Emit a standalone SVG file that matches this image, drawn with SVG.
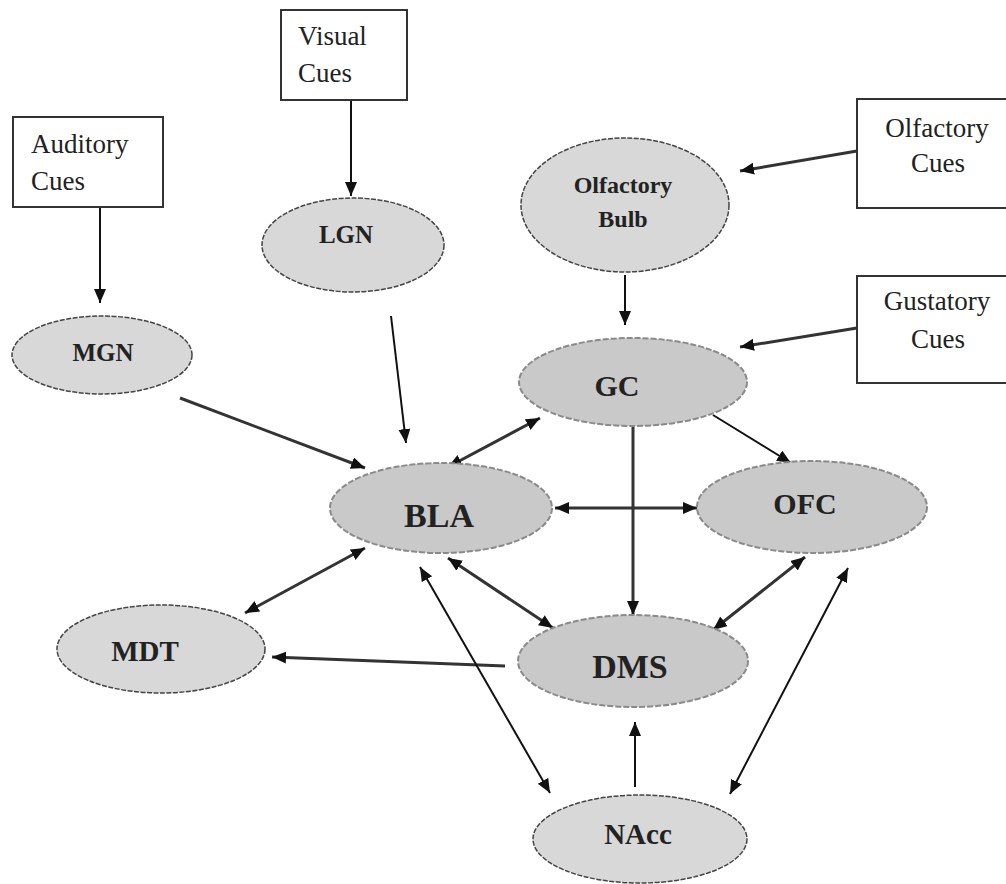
<svg xmlns="http://www.w3.org/2000/svg" width="1006" height="884" viewBox="0 0 1006 884">
<style>
.box{fill:#fff;stroke:#333;stroke-width:2}
.bt{font-family:"Liberation Serif","Times New Roman",serif;font-size:27px;fill:#222}
.n1{fill:#d8d8d8;stroke:#444;stroke-width:1.5;stroke-dasharray:5 1.5}
.n2{fill:#c9c9c9;stroke:#8a8a8a;stroke-width:2;stroke-dasharray:6 2}
.nt{font-family:"Liberation Serif","Times New Roman",serif;font-weight:bold;fill:#222;text-anchor:middle}
.c{stroke:#111;stroke-width:2;fill:none}
.c2{stroke:#333;stroke-width:3;fill:none}
</style>
<defs>
<marker id="ah" markerUnits="userSpaceOnUse" markerWidth="15" markerHeight="13" refX="14" refY="6" orient="auto-start-reverse" viewBox="0 0 15 13">
<path d="M0,0 L14,6 L0,12 z" fill="#111"/>
</marker>
</defs>
<rect width="1006" height="884" fill="#fff"/>
<g id="connectors">
<line class="c" x1="100" y1="207" x2="100" y2="303" marker-end="url(#ah)"/>
<line class="c" x1="351" y1="100" x2="351" y2="196" marker-end="url(#ah)"/>
<line class="c2" x1="180" y1="398" x2="365" y2="468" marker-end="url(#ah)"/>
<line class="c" x1="391" y1="316" x2="406" y2="443" marker-end="url(#ah)"/>
<line class="c2" x1="857" y1="151" x2="740" y2="171" marker-end="url(#ah)"/>
<line class="c2" x1="857" y1="328" x2="740" y2="347" marker-end="url(#ah)"/>
<line class="c" x1="625" y1="275" x2="625" y2="325" marker-end="url(#ah)"/>
<line class="c2" x1="540" y1="418" x2="448" y2="467" marker-start="url(#ah)" marker-end="url(#ah)"/>
<line class="c" x1="713" y1="415" x2="791" y2="463" marker-end="url(#ah)"/>
<line class="c2" x1="633" y1="427" x2="633" y2="615" marker-end="url(#ah)"/>
<line class="c2" x1="555" y1="508" x2="697" y2="508" marker-start="url(#ah)" marker-end="url(#ah)"/>
<line class="c2" x1="365" y1="548" x2="245" y2="613" marker-start="url(#ah)" marker-end="url(#ah)"/>
<line class="c2" x1="448" y1="558" x2="553" y2="628" marker-start="url(#ah)" marker-end="url(#ah)"/>
<line class="c2" x1="805" y1="557" x2="713" y2="630" marker-start="url(#ah)" marker-end="url(#ah)"/>
<line class="c2" x1="505" y1="666" x2="272" y2="657" marker-end="url(#ah)"/>
<line class="c" x1="420" y1="567" x2="550" y2="793" marker-start="url(#ah)" marker-end="url(#ah)"/>
<line class="c" x1="848" y1="568" x2="730" y2="794" marker-start="url(#ah)" marker-end="url(#ah)"/>
<line class="c" x1="635" y1="787" x2="635" y2="722" marker-end="url(#ah)"/>
</g>
<g id="visual-cues">
<rect class="box" x="281" y="10" width="126" height="90"/>
<text class="bt" x="298" y="45">Visual</text>
<text class="bt" x="298" y="82">Cues</text>
</g>
<g id="auditory-cues">
<rect class="box" x="13" y="117" width="150" height="90"/>
<text class="bt" x="31" y="153">Auditory</text>
<text class="bt" x="31" y="190">Cues</text>
</g>
<g id="olfactory-cues">
<rect class="box" x="857" y="99" width="160" height="109"/>
<text class="bt" x="937" y="137" text-anchor="middle">Olfactory</text>
<text class="bt" x="938" y="172" text-anchor="middle">Cues</text>
</g>
<g id="gustatory-cues">
<rect class="box" x="857" y="276" width="160" height="107"/>
<text class="bt" x="937" y="310" text-anchor="middle">Gustatory</text>
<text class="bt" x="938" y="348" text-anchor="middle">Cues</text>
</g>
<g id="mgn">
<ellipse class="n1" cx="102" cy="355" rx="90" ry="39"/>
<text class="nt" x="103" y="361" font-size="25">MGN</text>
</g>
<g id="lgn">
<ellipse class="n1" cx="353" cy="245" rx="91" ry="47"/>
<text class="nt" x="346" y="243" font-size="25">LGN</text>
</g>
<g id="olfactory-bulb">
<ellipse class="n1" cx="625" cy="205" rx="104" ry="67"/>
<text class="nt" x="623" y="193" font-size="24">Olfactory</text>
<text class="nt" x="623" y="227" font-size="24">Bulb</text>
</g>
<g id="gc">
<ellipse class="n2" cx="633" cy="382" rx="114" ry="44"/>
<text class="nt" x="617" y="396" font-size="30">GC</text>
</g>
<g id="bla">
<ellipse class="n2" cx="441" cy="508" rx="111" ry="45"/>
<text class="nt" x="439" y="527" font-size="34">BLA</text>
</g>
<g id="ofc">
<ellipse class="n2" cx="812" cy="507" rx="115" ry="46"/>
<text class="nt" x="805" y="514" font-size="30">OFC</text>
</g>
<g id="dms">
<ellipse class="n2" cx="633" cy="661" rx="115" ry="46"/>
<text class="nt" x="630" y="678" font-size="34">DMS</text>
</g>
<g id="mdt">
<ellipse class="n1" cx="161" cy="649" rx="104" ry="44"/>
<text class="nt" x="145" y="661" font-size="29">MDT</text>
</g>
<g id="nacc">
<ellipse class="n1" cx="640" cy="839" rx="107" ry="44"/>
<text class="nt" x="638" y="844" font-size="29">NAcc</text>
</g>
</svg>
